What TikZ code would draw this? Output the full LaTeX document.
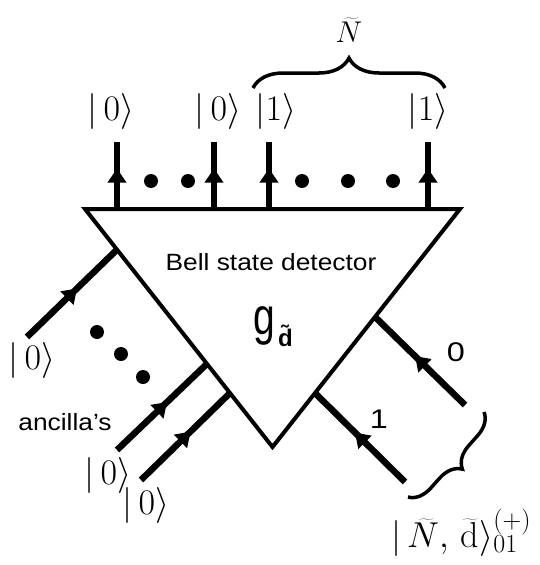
\RequirePackage{fix-cm}
\documentclass[tikz,border=0pt]{standalone}
\usepackage{fontspec}
\usepackage{graphicx}
\setsansfont{Liberation Sans}
\usetikzlibrary{arrows.meta,decorations.markings,decorations.pathreplacing,calc}
\DeclareMathSizes{36}{36}{26}{20}
\DeclareMathSizes{30}{30}{21}{16}
\newcommand\wsans[1]{\scalebox{1.12}[1]{#1}}
\begin{document}
\begin{tikzpicture}[x=1pt,y=-1pt,
  tri/.style={line width=4pt, line join=miter},
  wire/.style={line width=6.5pt, postaction={decorate},
    decoration={markings, mark=at position 0.5 with {\arrow[xshift=7pt]{Triangle[length=14pt,width=18pt]}}}},
  dotmark/.style={circle, fill=black, inner sep=0pt, minimum size=14pt},
  ket/.style={inner sep=0pt, font=\fontsize{36}{40}\selectfont},
  sanslabel/.style={inner sep=0pt, font=\sffamily\fontsize{23.5}{26}\selectfont},
  numlabel/.style={inner sep=0pt, font=\sffamily\fontsize{27}{30}\selectfont},
  bracestyle/.style={line width=3.5pt, decorate}
]
\useasboundingbox (0,0) rectangle (539,565);
% triangle
\coordinate (TL) at (85,209);
\coordinate (TR) at (460,209);
\coordinate (TB) at (272.5,447);
\draw[tri] (TL) -- (TR) -- (TB) -- cycle;
% top output wires
\foreach \i/\x in {1/117,2/214,3/269,4/428}{
  \coordinate (ob\i) at (\x,209);
  \coordinate (ot\i) at (\x,142);
  \draw[wire] (ob\i) -- (ot\i);
}
% top dots
\foreach \i/\x in {1/151,2/188,3/302,4/348,5/393}{
  \node[dotmark] (td\i) at (\x,181) {};
}
% top kets
\node[ket] (k1) at (111,111) {$|\,0\rangle$};
\node[ket] (k2) at (218,111) {$|\,0\rangle$};
\node[ket] (k3) at (276,111) {$|1\rangle$};
\node[ket] (k4) at (428,111) {$|1\rangle$};
% top brace
\coordinate (bra1) at (253,88);
\coordinate (bra2) at (445,88);
\draw[bracestyle, decoration={brace, amplitude=30pt}] (bra1) -- (bra2);
\node[inner sep=0pt, anchor=base, font=\fontsize{30}{34}\selectfont] (Nt) at (349,42) {$\widetilde{N}$};
% left ancilla wires
\coordinate (a1s) at (27,337);  \coordinate (a1e) at (117,249.6);
\coordinate (a2s) at (117,450); \coordinate (a2e) at (207,363.8);
\coordinate (a3s) at (141,480); \coordinate (a3e) at (230,393);
\draw[wire] (a1s) -- (a1e);
\draw[wire] (a2s) -- (a2e);
\draw[wire] (a3s) -- (a3e);
\node[dotmark] (ld1) at (97,332) {};
\node[dotmark] (ld2) at (121,354) {};
\node[dotmark] (ld3) at (143,377) {};
\node[ket] (lk1) at (32,360) {$|\,0\rangle$};
\node[ket] (lk2) at (108,475) {$|\,0\rangle$};
\node[ket] (lk3) at (146,505) {$|\,0\rangle$};
\node[sanslabel, anchor=base] (anc) at (65,430) {\wsans{ancilla’s}};
% right input wires
\coordinate (r0s) at (465,405); \coordinate (r0e) at (375,316.9);
\coordinate (r1s) at (405,482); \coordinate (r1e) at (315,393);
\draw[wire] (r0s) -- (r0e);
\draw[wire] (r1s) -- (r1e);
\node[numlabel, anchor=base] (l0) at (456,361) {\scalebox{1.2}[1]{0}};
\node[numlabel, anchor=base] (l1) at (379,428) {\scalebox{1.2}[1]{1}};
% right brace
\coordinate (rb1) at (484,412);
\coordinate (rb2) at (408,497);
\draw[bracestyle, decoration={brace, amplitude=22pt}] (rb1) -- (rb2);
\node[ket, anchor=base west] (inst) at (391,547) {$|\,\widetilde{N},\,\widetilde{\mathrm{d}}\rangle^{(+)}_{01}$};
% detector text
\node[sanslabel, anchor=base] (bsd) at (271,270) {\wsans{Bell state detector}};
\node[inner sep=0pt, anchor=base west, font=\sffamily\fontsize{52}{56}\selectfont] (g) at (253,334) {\scalebox{0.75}[1]{g}};
\node[inner sep=0pt, anchor=base west, font=\sffamily\bfseries\fontsize{24}{28}\selectfont] (gd) at (278,346) {\~{d}};
\end{tikzpicture}
\end{document}
